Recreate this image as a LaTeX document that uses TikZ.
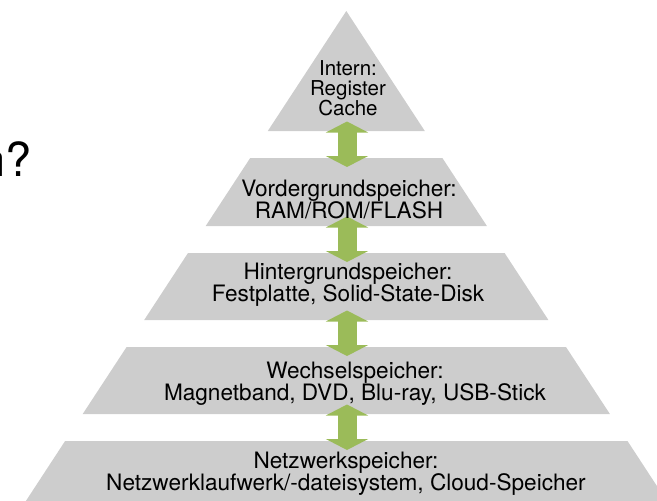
\documentclass[tikz,border=0pt]{standalone}
\usepackage{fontspec}
\setmainfont{TeX Gyre Heros}
\usetikzlibrary{arrows.meta}

\definecolor{bandgray}{RGB}{205,205,205}
\definecolor{arrowgreen}{RGB}{155,187,89}

\tikzset{
  bandfill/.style = {fill = bandgray},
  bandtext/.style = {align = center, inner sep = 0pt, font = \fontsize{22.6}{22}\selectfont},
  updown/.style = {arrowgreen, line width = 19pt, shorten < = -9.5pt, shorten > = -9pt,
    {Triangle[width = 42pt, length = 11pt]}-{Triangle[width = 42pt, length = 11pt]}}
}

\begin{document}
\begin{tikzpicture}[x = 1pt, y = -1pt]
            \useasboundingbox (0, 0) rectangle (657, 501);
            \clip (0, 0) rectangle (657, 501);
            \pgfmathsetmacro{\cx}{346.3}
            \pgfmathsetmacro{\ax}{347}

            \node [anchor = base east, inner sep = 0pt, font = \fontsize{47}{47}\selectfont] (frage) at (32, 176) {n?};

            % pyramid bands
            \fill [bandfill] (\cx, 11) -- (424.8, 131) -- (267.8, 131) -- cycle;
            \fill [bandfill] (250.2, 158) -- (442.4, 158) -- (486.9, 226) -- (205.7, 226) -- cycle;
            \fill [bandfill] (188.0, 253) -- (504.6, 253) -- (548.4, 320) -- (144.2, 320) -- cycle;
            \fill [bandfill] (126.6, 347) -- (566.0, 347) -- (609.9, 414) -- (82.7, 414) -- cycle;
            \fill [bandfill] (65.1, 441) -- (627.5, 441) -- (672.6, 510) -- (20.0, 510) -- cycle;

            % band edges
            \coordinate (b1) at (\ax, 131);
            \coordinate (t2) at (\ax, 158);
            \coordinate (b2) at (\ax, 226);
            \coordinate (t3) at (\ax, 253);
            \coordinate (b3) at (\ax, 320);
            \coordinate (t4) at (\ax, 347);
            \coordinate (b4) at (\ax, 414);
            \coordinate (t5) at (\ax, 441);

            \draw [updown] (b1) -- (t2);
            \draw [updown] (b2) -- (t3);
            \draw [updown] (b3) -- (t4);
            \draw [updown] (b4) -- (t5);

            \node [bandtext, font = \fontsize{20.5}{20}\selectfont] (intern) at (348, 88.5) {Intern:\\Register\\Cache};
            \node [bandtext] (vorder) at (349, 199) {Vordergrundspeicher:\\RAM/ROM/FLASH};
            \node [bandtext] (hinter) at (348, 284.3) {Hintergrundspeicher:\\Festplatte, Solid-State-Disk};
            \node [bandtext] (wechsel) at (355, 384) {Wechselspeicher:\\Magnetband, DVD, Blu-ray, USB-Stick};
            \node [bandtext] (netz) at (346, 474) {Netzwerkspeicher:\\Netzwerklaufwerk/-dateisystem, Cloud-Speicher};
        \end{tikzpicture}
\end{document}
